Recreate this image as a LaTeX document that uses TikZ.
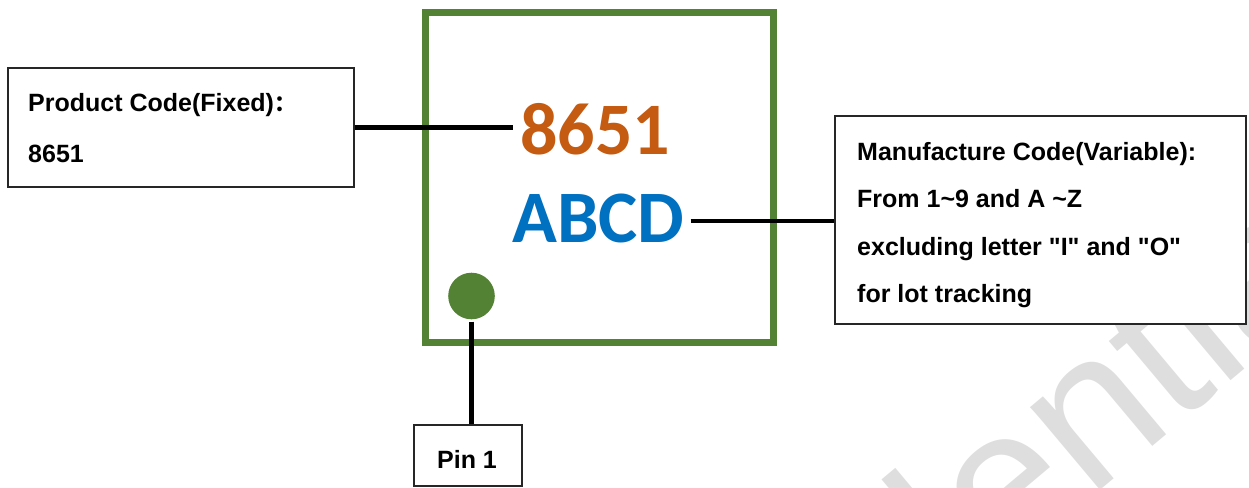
\documentclass[tikz,border=0pt]{standalone}
\usepackage{fontspec}
\setmainfont{Liberation Sans}
\newfontfamily\calib{Carlito}
\newfontfamily\cjk{Noto Sans CJK SC}
\definecolor{chipgreen}{HTML}{548235}
\definecolor{codeorange}{HTML}{C55A11}
\definecolor{codeblue}{HTML}{0070C0}
\definecolor{wmgray}{HTML}{DEDEDE}
\begin{document}
\begin{tikzpicture}[x=1pt,y=-1pt,
  lbl/.style={font=\fontsize{25}{47}\selectfont\bfseries, anchor=base west, inner sep=0pt},
  frame/.style={draw=black!85, line width=1.6pt, fill=white, anchor=north west, inner sep=0pt},
  conn/.style={line width=4.5pt, black},
  bigcode/.style={font=\calib\bfseries\fontsize{74}{74}\selectfont, anchor=base west, inner ysep=0pt}
  ]
\useasboundingbox (0,0) rectangle (1249,487);
% watermark
\begin{scope}
  \clip (0,0) rectangle (1249,487);
  \node[rotate=40, anchor=base west, inner sep=0pt, text=wmgray,
        font=\fontsize{205}{205}\selectfont] (wm) at (548,954) {Confidential};
\end{scope}
% chip
\node[draw=chipgreen, line width=7pt, minimum width=348.5pt, minimum height=329.5pt,
      anchor=north west, inner sep=0pt] (chip) at (421.5,9.5) {};
\node[circle, fill=chipgreen, minimum size=46.6pt, inner sep=0pt] (dot) at (471.5,296) {};
\node[bigcode, text=codeorange, inner xsep=7pt] (code) at (513,154) {8651};
\node[bigcode, text=codeblue, inner xsep=6pt] (abcd) at (506,242) {ABCD};
% left box
\node[frame, minimum width=346pt, minimum height=119pt] (pbox) at (7,67) {};
\node[lbl] (ptxt) at (28,111) {Product Code(Fixed)\cjk\fontsize{22}{22}\selectfont ：};
\node[lbl] (pnum) at (28,162) {8651};
% right box
\node[frame, minimum width=411pt, minimum height=208pt] (mbox) at (834,115) {};
\node[lbl] (m1) at (857,160) {Manufacture Code(Variable):};
\node[lbl] (m2) at (857,207) {From 1\textasciitilde 9 and A \textasciitilde Z};
\node[lbl] (m3) at (857,255) {excluding letter \textquotedbl I\textquotedbl\ and \textquotedbl O\textquotedbl};
\node[lbl] (m4) at (857,302) {for lot tracking};
% pin box
\node[frame, minimum width=108pt, minimum height=61pt] (pin) at (413,424) {};
\node[lbl, anchor=base] (pintxt) at (467,468) {Pin 1};
% connectors
\draw[conn] (pbox.east) -- (pbox.east -| code.west);
\draw[conn] ([yshift=-3pt]abcd.east) -- ([yshift=-3pt]abcd.east -| mbox.west);
\draw[conn] ([yshift=-2pt]dot.south) -- (dot.south |- pin.north);
\end{tikzpicture}
\end{document}
